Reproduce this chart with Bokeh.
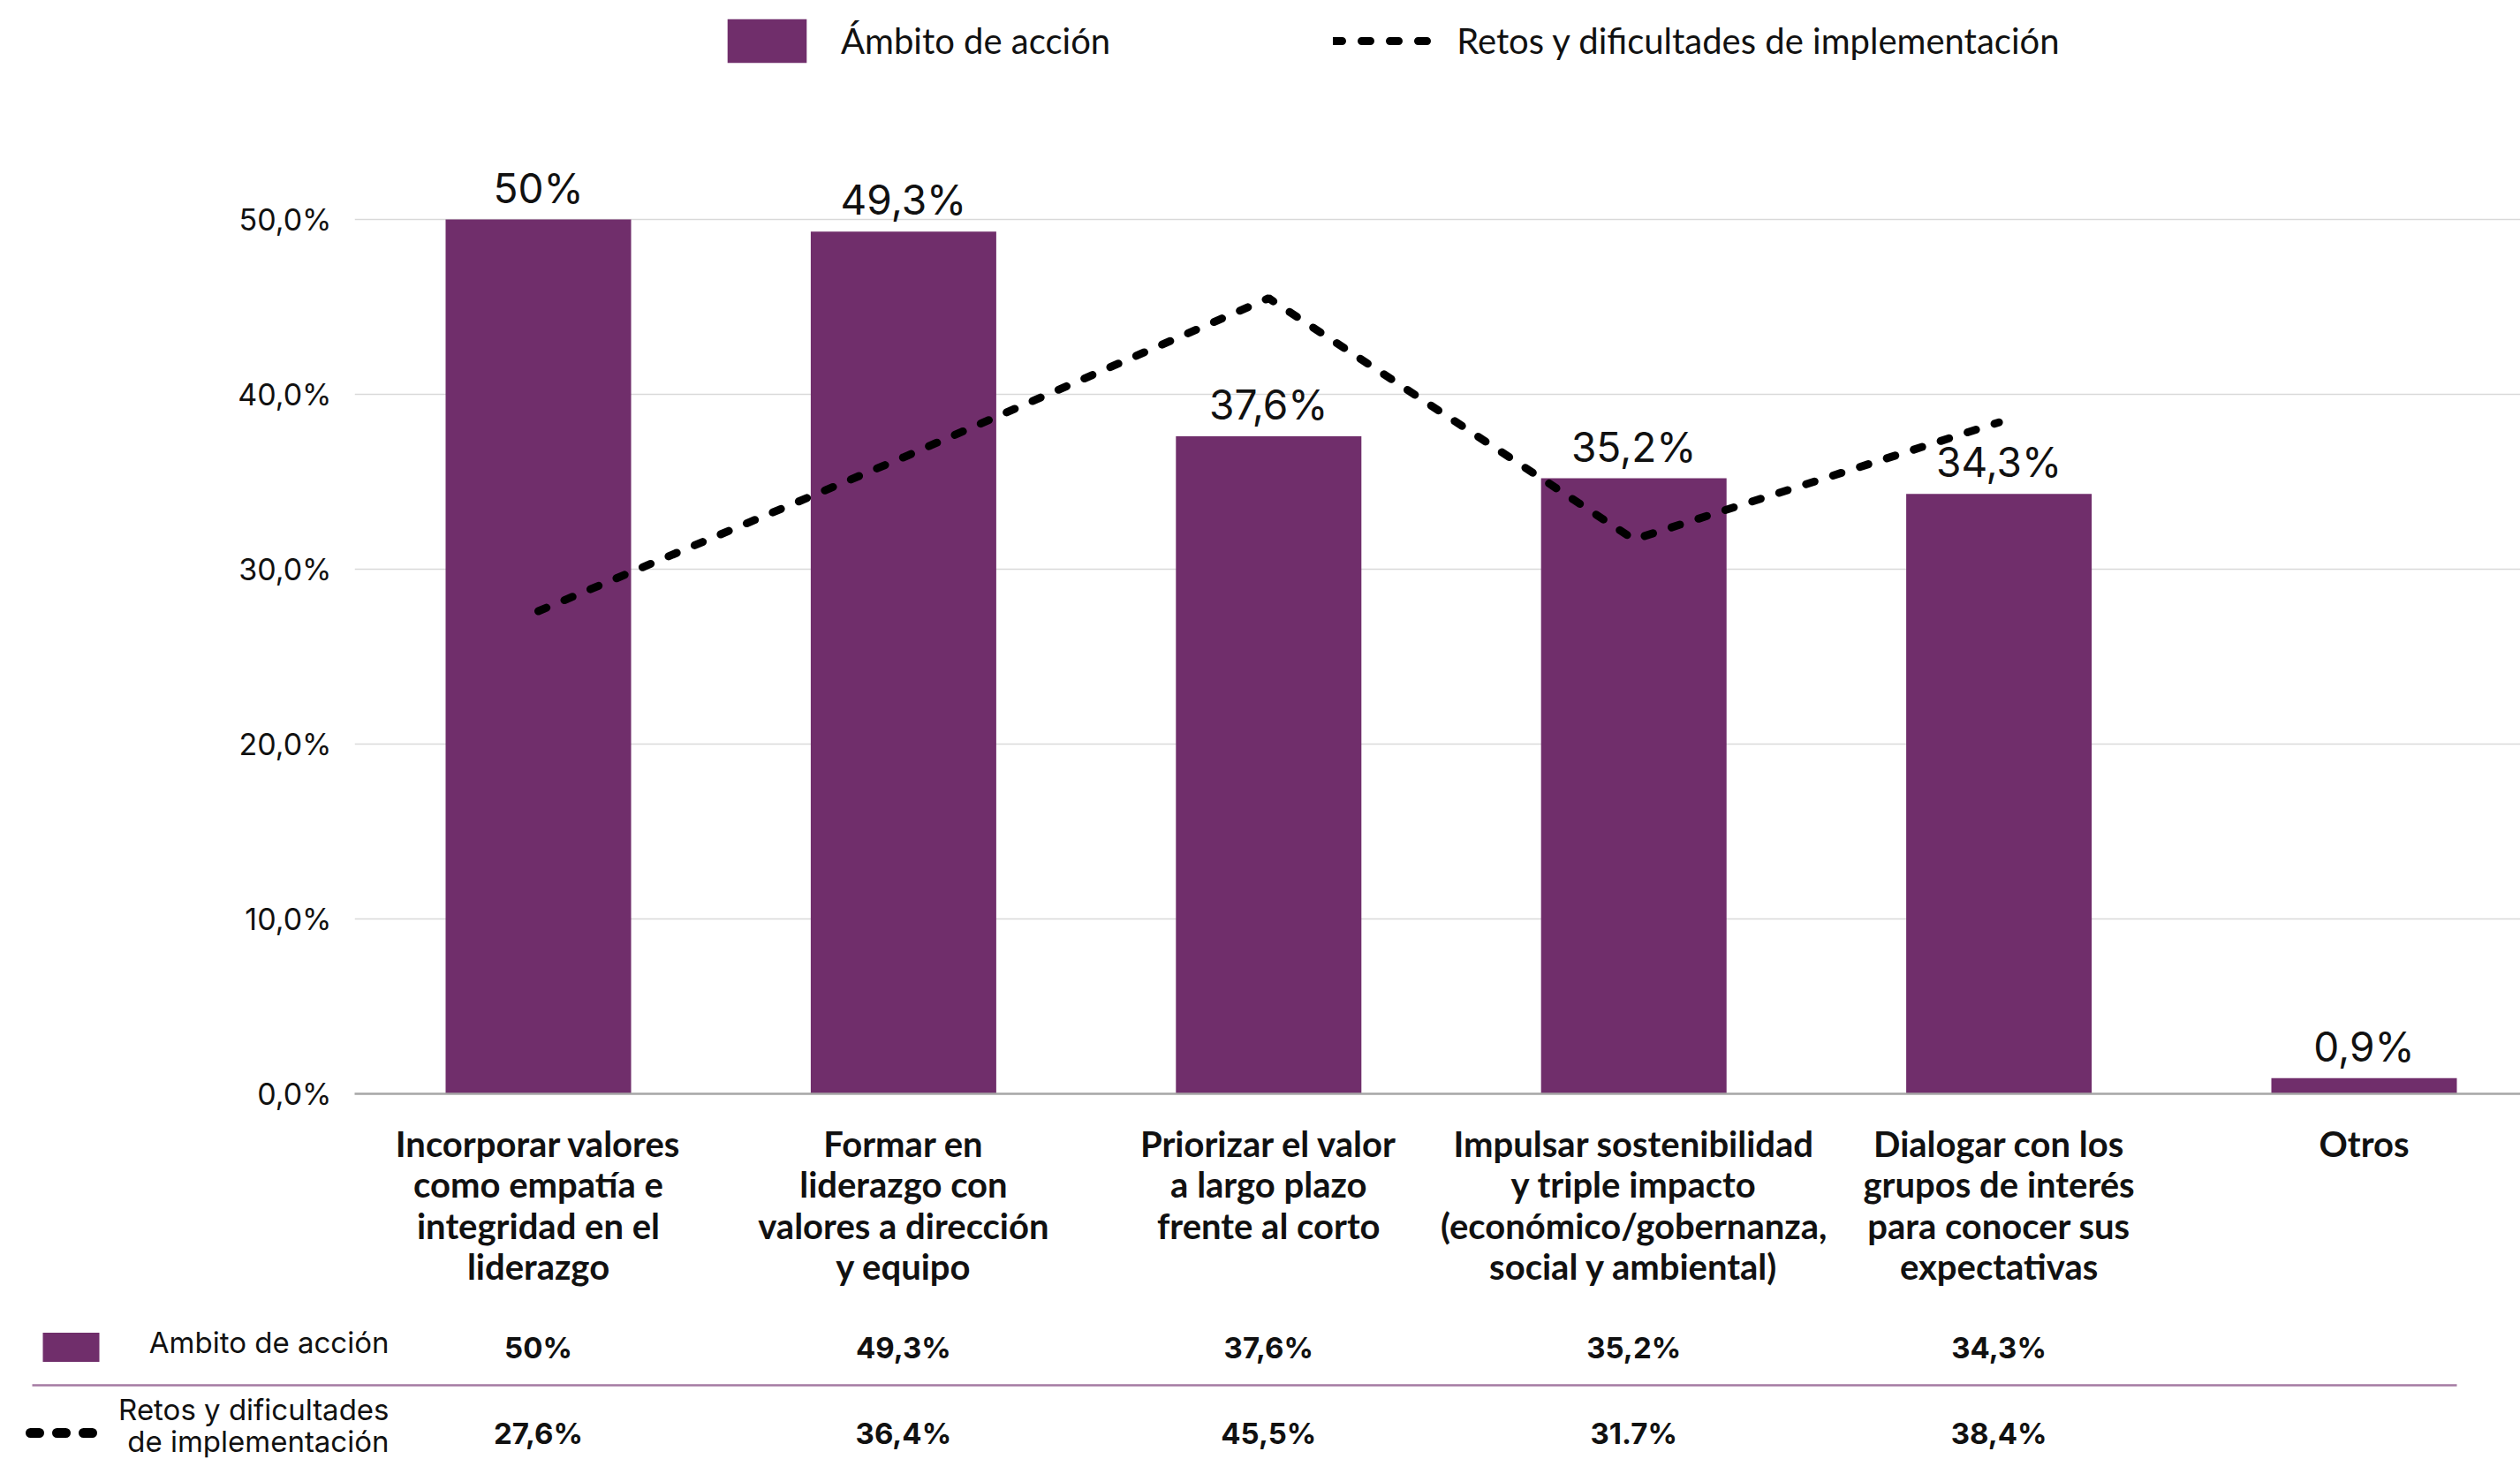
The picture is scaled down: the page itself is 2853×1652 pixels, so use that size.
from bokeh.plotting import figure
from bokeh.models import Range1d, FixedTicker, Legend, LegendItem
from bokeh.layouts import column
from bokeh.embed import file_html
from bokeh.resources import INLINE
from bokeh.core.properties import value

# ---------------- data ----------------
categories = [
    "Incorporar valores\ncomo empatía e\nintegridad en el\nliderazgo",
    "Formar en\nliderazgo con\nvalores a dirección\ny equipo",
    "Priorizar el valor\na largo plazo\nfrente al corto",
    "Impulsar sostenibilidad\ny triple impacto\n(económico/gobernanza,\nsocial y ambiental)",
    "Dialogar con los\ngrupos de interés\npara conocer sus\nexpectativas",
    "Otros",
]
ambito = [50.0, 49.3, 37.6, 35.2, 34.3, 0.9]
ambito_labels = ["50%", "49,3%", "37,6%", "35,2%", "34,3%", "0,9%"]
retos = [27.6, 36.4, 45.5, 31.7, 38.4]
retos_labels = ["27,6%", "36,4%", "45,5%", "31.7%", "38,4%"]
y_ticks = [0, 10, 20, 30, 40, 50]
y_tick_labels = ["0,0%", "10,0%", "20,0%", "30,0%", "40,0%", "50,0%"]
series_names = ["Ámbito de acción", "Retos y dificultades de implementación"]
table_names = ["Ambito de acción", "Retos y dificultades\nde implementación"]

# ---------------- style / layout ----------------
PURPLE = "#702E6B"
TXT = "#111111"
W = 2853
PPU = 413.4          # px per category
CAT0 = 609.0         # page x of first category centre
FRAME_LEFT = 401
FRAME_BOTTOM = 1238  # page y of 0 %
PX_PER_PCT = 19.8
AXIS_PANEL = 240
H1 = FRAME_BOTTOM + AXIS_PANEL
H2 = 1652 - H1
ROW_PX = 97.0        # px between the two table rows
ROW0_PAGE = 1525.0

xs = list(range(len(categories)))


def page_to_x(px):
    return (px - CAT0) / PPU


x_end = page_to_x(W)

p = figure(width=W, height=H1,
           x_range=Range1d(page_to_x(FRAME_LEFT), x_end),
           y_range=Range1d(0, FRAME_BOTTOM / PX_PER_PCT),
           output_backend="svg", toolbar_location=None,
           min_border_left=FRAME_LEFT, min_border_right=0,
           min_border_top=0, min_border_bottom=AXIS_PANEL)
p.frame_align = False
p.outline_line_color = None
p.background_fill_color = "white"
p.border_fill_color = "white"

# grid
p.xgrid.visible = False
p.ygrid.ticker = FixedTicker(ticks=y_ticks[1:])
p.ygrid.grid_line_color = "#d9d9d9"
p.ygrid.grid_line_width = 1.5

# y axis
p.yaxis.ticker = FixedTicker(ticks=y_ticks)
p.yaxis.major_label_overrides = {t: l for t, l in zip(y_ticks, y_tick_labels)}
p.yaxis.axis_line_color = None
p.yaxis.major_tick_line_color = None
p.yaxis.minor_tick_line_color = None
p.yaxis.major_tick_out = 0
p.yaxis.major_label_standoff = 26
p.yaxis.major_label_text_font = "Inter"
p.yaxis.major_label_text_font_size = "34px"
p.yaxis.major_label_text_color = TXT

# x axis
p.xaxis.ticker = FixedTicker(ticks=xs)
p.xaxis.major_label_overrides = {i: c for i, c in zip(xs, categories)}
p.xaxis.axis_line_color = "#a6a6a6"
p.xaxis.axis_line_width = 2.5
p.xaxis.major_tick_line_color = None
p.xaxis.minor_tick_line_color = None
p.xaxis.major_tick_out = 0
p.xaxis.major_label_standoff = 32
p.xaxis.major_label_text_font = "Lato"
p.xaxis.major_label_text_font_style = "bold"
p.xaxis.major_label_text_font_size = "40px"
p.xaxis.major_label_text_line_height = 0.97
p.xaxis.major_label_text_color = TXT
p.xaxis.major_label_text_align = "center"

bars = p.vbar(x=xs, top=ambito, width=0.508, fill_color=PURPLE, line_color=None)
label_gap = 36 / PX_PER_PCT
p.text(x=xs, y=[v + label_gap for v in ambito], text=ambito_labels,
       text_align="center", text_baseline="middle",
       text_font=value("Inter"), text_font_size="46px", text_color=TXT)

ln = p.line(x=xs[:len(retos)], y=retos, line_color="black", line_width=9,
            line_dash="10 22", line_cap="round")

legend = Legend(items=[LegendItem(label=series_names[0], renderers=[bars]),
                       LegendItem(label=series_names[1], renderers=[ln])],
                orientation="horizontal", location=(411, FRAME_BOTTOM - 77),
                glyph_width=112, glyph_height=62, label_standoff=28,
                spacing=252, padding=0, margin=0,
                border_line_color=None, background_fill_alpha=0,
                label_text_font="Lato", label_text_font_size="40px",
                label_text_color=TXT)
p.add_layout(legend)

# ---------------- table ----------------
y_top = 0 - (ROW0_PAGE - H1) / ROW_PX
y_bot = 0 + (1652 - ROW0_PAGE) / ROW_PX
t = figure(width=W, height=H2,
           x_range=Range1d(page_to_x(0), x_end),
           y_range=Range1d(y_bot, y_top),
           output_backend="svg", toolbar_location=None,
           min_border=0, min_border_left=0, min_border_right=0,
           min_border_top=0, min_border_bottom=0)
t.frame_align = False
t.outline_line_color = None
t.axis.visible = False
t.grid.visible = False
t.background_fill_color = "white"
t.border_fill_color = "white"

rows = [0, 1]
label_rows = [rows[0] - 6 / ROW_PX, rows[1] - 9 / ROW_PX]
t.rect(x=page_to_x(80), y=rows[0], width=64, height=33,
       width_units="screen", height_units="screen",
       fill_color=PURPLE, line_color=None)
t.line(x=[page_to_x(34), page_to_x(106)], y=[rows[1], rows[1]],
       line_color="black", line_width=11, line_dash="10 20", line_cap="round")
t.text(x=[page_to_x(440)] * 2, y=label_rows, text=table_names,
       text_align="right", text_baseline="middle",
       text_font=value("Inter"), text_font_size="33px",
       text_line_height=0.9, text_color=TXT)
t.line(x=[page_to_x(36), xs[-1] + 0.254], y=[0.443, 0.443],
       line_color="#A47AA2", line_width=2.5)
t.text(x=xs[:len(retos)], y=[rows[0]] * len(retos), text=ambito_labels[:len(retos)],
       text_align="center", text_baseline="middle",
       text_font=value("Inter"), text_font_style="bold", text_font_size="33px",
       text_color=TXT)
t.text(x=xs[:len(retos)], y=[rows[1]] * len(retos), text=retos_labels,
       text_align="center", text_baseline="middle",
       text_font=value("Inter"), text_font_style="bold", text_font_size="33px",
       text_color=TXT)

layout = column(p, t, spacing=0)
open("out.html", "w").write(file_html(layout, INLINE))
